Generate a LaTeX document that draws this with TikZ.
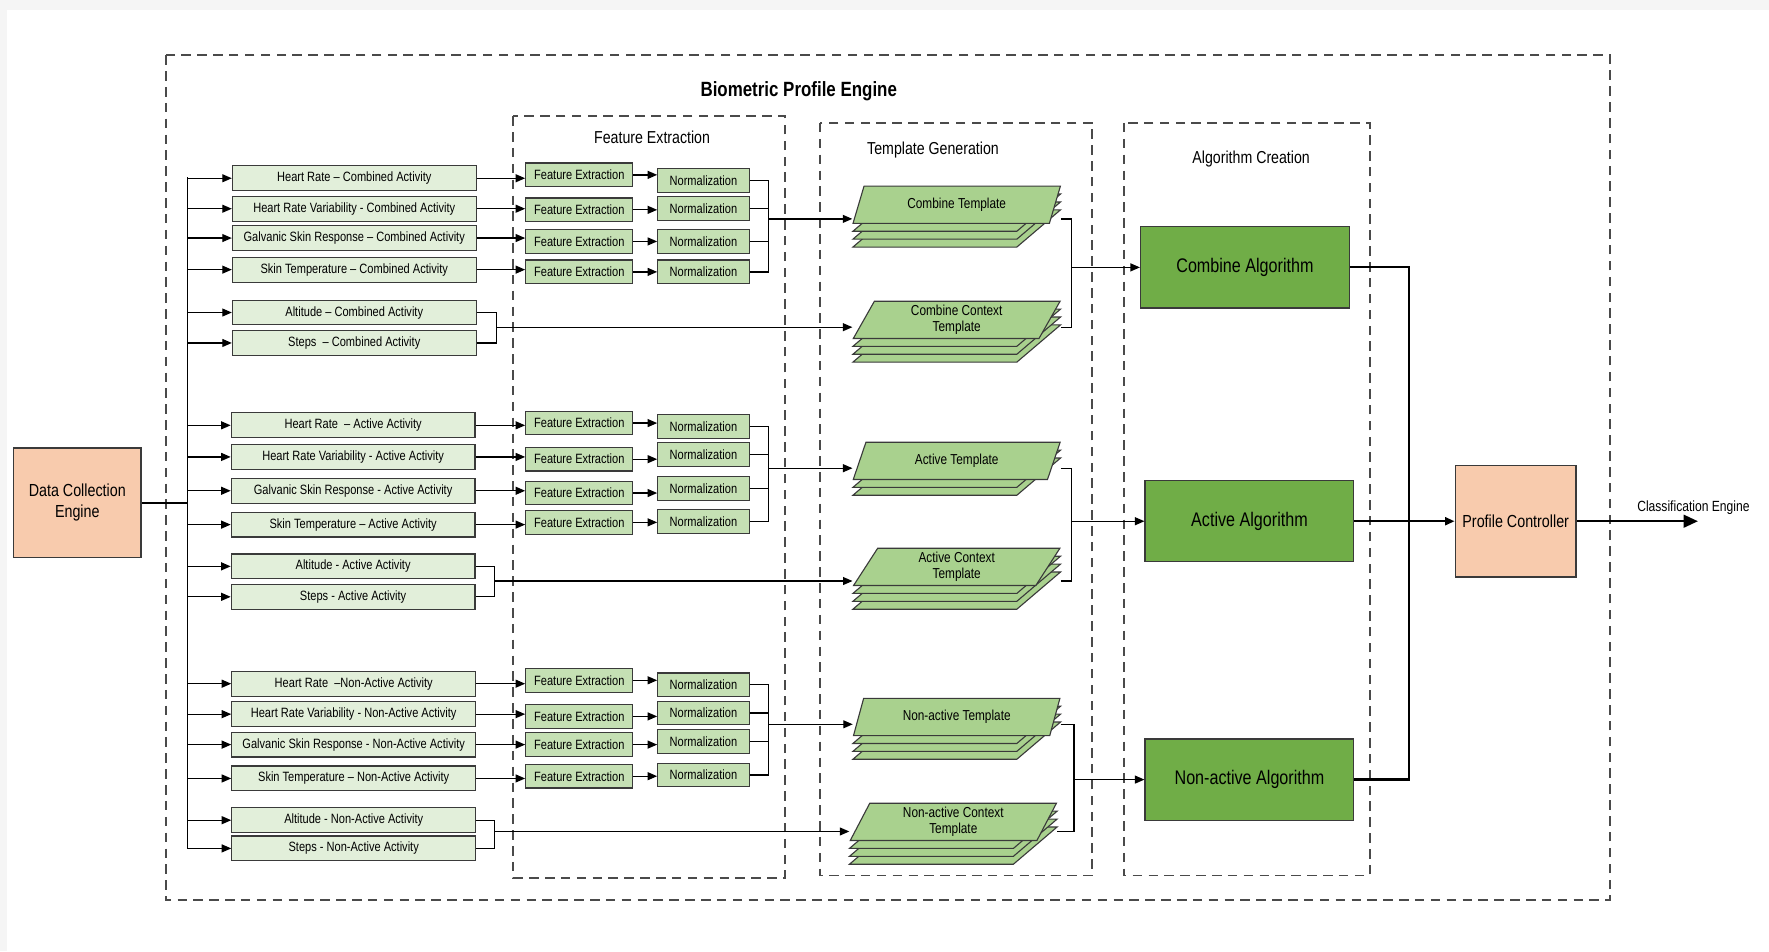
\documentclass[tikz,border=0pt]{standalone}
\usepackage{fontspec}
\setmainfont{Liberation Sans}[FakeStretch=0.82]
\usepackage{xcolor}
\usetikzlibrary{arrows.meta,shapes.geometric}
\definecolor{paleGreen}{HTML}{E2EFDA}
\definecolor{softGreen}{HTML}{C5E0B4}
\definecolor{midGreen}{HTML}{A9D18E}
\definecolor{deepGreen}{HTML}{70AD47}
\definecolor{softPeach}{HTML}{F8CBAD}
\definecolor{edgeGrey}{HTML}{3A3A3A}
\definecolor{dashGrey}{HTML}{4A4A4A}

\tikzset{
  inbox/.style={draw=edgeGrey,fill=paleGreen,line width=0.7pt,minimum width=5.4cm,minimum height=0.55cm,inner sep=1pt,font=\fontsize{8.5}{10}\selectfont},
  febox/.style={draw=edgeGrey,fill=softGreen,line width=0.7pt,minimum width=2.375cm,minimum height=0.525cm,inner sep=1pt,font=\fontsize{8.5}{10}\selectfont},
  nmbox/.style={febox,minimum width=2.025cm},
  tlayer/.style={trapezium,trapezium left angle=70,trapezium right angle=110,trapezium stretches=true,draw=edgeGrey,fill=midGreen,line width=0.7pt,minimum width=4.6cm,minimum height=0.825cm,inner sep=1pt,align=center,font=\fontsize{9.1}{10.5}\selectfont},
  algbox/.style={draw=edgeGrey,fill=deepGreen,line width=0.8pt,minimum width=4.625cm,minimum height=1.8cm,font=\fontsize{12.4}{14}\selectfont},
  ctlbox/.style={draw=edgeGrey,fill=softPeach,line width=1pt,align=center,font=\fontsize{11}{13}\selectfont},
  grpbox/.style={draw=dashGrey,line width=1.1pt,dash pattern=on 6pt off 4pt},
  grptitle/.style={font=\fontsize{10.9}{12}\selectfont},
  wire/.style={line width=0.8pt},
  bus/.style={line width=1.4pt},
}

% stacked template: name, x, y (top layer centre), text, layers behind
\newcommand{\tmplstack}[5]{%
  \foreach \k in {#5,...,1}
    \node[tlayer] at (#2,#3+7*\k) {};
  \node[tlayer] (#1) at (#2,#3) {#4};
}

\begin{document}
\begin{tikzpicture}[x=0.025cm,y=-0.025cm,>={Triangle[length=6pt,width=5pt]}]
  \useasboundingbox (0,0) rectangle (1568,843);
  \fill[gray!8] (0,0) rectangle (1568,843);
  \fill[white] (6,9) rectangle (1568,843);

  % group frames
  \draw[grpbox] (147,49) rectangle (1427,798);
  \draw[grpbox] (455,103) rectangle (696,778);
  \draw[grpbox] (727,109) rectangle (968,776);
  \draw[grpbox] (996,109) rectangle (1214,776);
  \node[font=\bfseries\fontsize{13}{15}\selectfont] (tbpe) at (708,81) {Biometric Profile Engine};
  \node[grptitle] (tfe) at (578,122) {Feature Extraction};
  \node[grptitle] (ttg) at (827,133) {Template Generation};
  \node[grptitle] (tac) at (1109,141) {Algorithm Creation};

  % data collection
  \node[ctlbox,minimum width=2.825cm,minimum height=2.425cm] (dce) at (68.5,445.5) {Data Collection\\Engine};
  \coordinate (bt) at (166,157);
  \coordinate (bb) at (166,752);
  \draw[bus] (dce.east) -- (dce.east -| bt);
  \draw[wire] (bt) -- (bb);

  % combined activity
  \node[inbox] (hrc) at (314,158) {Heart Rate -- Combined Activity};
  \node[inbox] (hrvc) at (314,185) {Heart Rate Variability - Combined Activity};
  \node[inbox] (gsrc) at (314,211) {Galvanic Skin Response -- Combined Activity};
  \node[inbox] (stc) at (314,239) {Skin Temperature -- Combined Activity};
  \node[inbox] (altc) at (314,277) {Altitude -- Combined Activity};
  \node[inbox] (stpc) at (314,304) {Steps \ -- Combined Activity};

  \node[febox] (fec1) at (513.5,155) {Feature Extraction};
  \node[febox] (fec2) at (513.5,186) {Feature Extraction};
  \node[febox] (fec3) at (513.5,214) {Feature Extraction};
  \node[febox] (fec4) at (513.5,241) {Feature Extraction};
  \node[nmbox] (nmc1) at (623.5,160) {Normalization};
  \node[nmbox] (nmc2) at (623.5,185) {Normalization};
  \node[nmbox] (nmc3) at (623.5,214) {Normalization};
  \node[nmbox] (nmc4) at (623.5,241) {Normalization};

  % active activity
  \node[inbox] (hra) at (313,377) {Heart Rate \ -- Active Activity};
  \node[inbox] (hrva) at (313,405) {Heart Rate Variability - Active Activity};
  \node[inbox] (gsra) at (313,435) {Galvanic Skin Response - Active Activity};
  \node[inbox] (sta) at (313,465) {Skin Temperature -- Active Activity};
  \node[inbox] (alta) at (313,502) {Altitude - Active Activity};
  \node[inbox] (stpa) at (313,529) {Steps - Active Activity};

  \node[febox] (fea1) at (513.5,375) {Feature Extraction};
  \node[febox] (fea2) at (513.5,407) {Feature Extraction};
  \node[febox] (fea3) at (513.5,437) {Feature Extraction};
  \node[febox] (fea4) at (513.5,463) {Feature Extraction};
  \node[nmbox] (nma1) at (623.5,378) {Normalization};
  \node[nmbox] (nma2) at (623.5,403) {Normalization};
  \node[nmbox] (nma3) at (623.5,433) {Normalization};
  \node[nmbox] (nma4) at (623.5,462) {Normalization};

  % non-active activity
  \node[inbox] (hrn) at (313.5,606) {Heart Rate \ --Non-Active Activity};
  \node[inbox] (hrvn) at (313.5,633) {Heart Rate Variability - Non-Active Activity};
  \node[inbox] (gsrn) at (313.5,660) {Galvanic Skin Response - Non-Active Activity};
  \node[inbox] (stn) at (313.5,690) {Skin Temperature -- Non-Active Activity};
  \node[inbox] (altn) at (313.5,727) {Altitude - Non-Active Activity};
  \node[inbox] (stpn) at (313.5,752) {Steps - Non-Active Activity};

  \node[febox] (fen1) at (513.5,603) {Feature Extraction};
  \node[febox] (fen2) at (513.5,635) {Feature Extraction};
  \node[febox] (fen3) at (513.5,660) {Feature Extraction};
  \node[febox] (fen4) at (513.5,688) {Feature Extraction};
  \node[nmbox] (nmn1) at (623.5,607) {Normalization};
  \node[nmbox] (nmn2) at (623.5,632) {Normalization};
  \node[nmbox] (nmn3) at (623.5,657) {Normalization};
  \node[nmbox] (nmn4) at (623.5,687) {Normalization};

  % templates
  \tmplstack{ctp}{848}{181.5}{Combine Template}{3}
  \tmplstack{cctp}{848}{283.5}{Combine Context\\Template}{3}
  \tmplstack{atp}{848}{408.5}{Active Template}{2}
  \tmplstack{actp}{848}{502.5}{Active Context\\Template}{3}
  \tmplstack{ntp}{848}{635.5}{Non-active Template}{3}
  \tmplstack{nctp}{845}{728.5}{Non-active Context\\Template}{3}

  % algorithms and controller
  \node[algbox] (calg) at (1103.5,237) {Combine Algorithm};
  \node[algbox] (aalg) at (1107.5,462) {Active Algorithm};
  \node[algbox] (nalg) at (1107.5,691) {Non-active Algorithm};
  \node[ctlbox,minimum width=2.675cm,minimum height=2.475cm] (pc) at (1343.5,462) {Profile Controller};

  % junction points
  \coordinate (cb) at (681,194);
  \coordinate (cx) at (440,290);
  \coordinate (ab) at (681,415);
  \coordinate (ax) at (438,515);
  \coordinate (nb) at (681,642);
  \coordinate (nx) at (438,737);
  \coordinate (ca) at (950,237);
  \coordinate (aa) at (950,462);
  \coordinate (na) at (952,691);
  \coordinate (rb) at (1249,462);
  \coordinate (ce) at (1505,462);

  % bus to sensors
  \draw[wire,->] (hrc.west -| bt) -- (hrc.west);
  \draw[wire,->] (hrvc.west -| bt) -- (hrvc.west);
  \draw[wire,->] (gsrc.west -| bt) -- (gsrc.west);
  \draw[wire,->] (stc.west -| bt) -- (stc.west);
  \draw[wire,->] (altc.west -| bt) -- (altc.west);
  \draw[wire,->] (stpc.west -| bt) -- (stpc.west);
  \draw[wire,->] (hra.west -| bt) -- (hra.west);
  \draw[wire,->] (hrva.west -| bt) -- (hrva.west);
  \draw[wire,->] (gsra.west -| bt) -- (gsra.west);
  \draw[wire,->] (sta.west -| bt) -- (sta.west);
  \draw[wire,->] (alta.west -| bt) -- (alta.west);
  \draw[wire,->] (stpa.west -| bt) -- (stpa.west);
  \draw[wire,->] (hrn.west -| bt) -- (hrn.west);
  \draw[wire,->] (hrvn.west -| bt) -- (hrvn.west);
  \draw[wire,->] (gsrn.west -| bt) -- (gsrn.west);
  \draw[wire,->] (stn.west -| bt) -- (stn.west);
  \draw[wire,->] (altn.west -| bt) -- (altn.west);
  \draw[wire,->] (stpn.west -| bt) -- (stpn.west);

  % combined chain
  \draw[wire,->] (hrc.east) -- (hrc.east -| fec1.west);
  \draw[wire,->] (hrvc.east) -- (hrvc.east -| fec2.west);
  \draw[wire,->] (gsrc.east) -- (gsrc.east -| fec3.west);
  \draw[wire,->] (stc.east) -- (stc.east -| fec4.west);
  \draw[wire,->] (fec1.east) -- (fec1.east -| nmc1.west);
  \draw[wire,->] (fec2.east) -- (fec2.east -| nmc2.west);
  \draw[wire,->] (fec3.east) -- (fec3.east -| nmc3.west);
  \draw[wire,->] (fec4.east) -- (fec4.east -| nmc4.west);
  \draw[wire] (nmc1.east) -| (cb);
  \draw[wire] (nmc2.east) -| (cb);
  \draw[wire] (nmc3.east) -| (cb);
  \draw[wire] (nmc4.east) -| (cb);
  \draw[wire,->] (cb) -- (cb -| ctp.bottom left corner);
  \draw[wire] (altc.east) -| (cx);
  \draw[wire] (stpc.east) -| (cx);
  \draw[wire,->] (cx) -- (cx -| cctp.bottom left corner);

  % active chain
  \draw[wire,->] (hra.east) -- (hra.east -| fea1.west);
  \draw[wire,->] (hrva.east) -- (hrva.east -| fea2.west);
  \draw[wire,->] (gsra.east) -- (gsra.east -| fea3.west);
  \draw[wire,->] (sta.east) -- (sta.east -| fea4.west);
  \draw[wire,->] (fea1.east) -- (fea1.east -| nma1.west);
  \draw[wire,->] (fea2.east) -- (fea2.east -| nma2.west);
  \draw[wire,->] (fea3.east) -- (fea3.east -| nma3.west);
  \draw[wire,->] (fea4.east) -- (fea4.east -| nma4.west);
  \draw[wire] (nma1.east) -| (ab);
  \draw[wire] (nma2.east) -| (ab);
  \draw[wire] (nma3.east) -| (ab);
  \draw[wire] (nma4.east) -| (ab);
  \draw[wire,->] (ab) -- (ab -| atp.bottom left corner);
  \draw[wire] (alta.east) -| (ax);
  \draw[wire] (stpa.east) -| (ax);
  \draw[wire,->] (ax) -- (ax -| actp.bottom left corner);

  % non-active chain
  \draw[wire,->] (hrn.east) -- (hrn.east -| fen1.west);
  \draw[wire,->] (hrvn.east) -- (hrvn.east -| fen2.west);
  \draw[wire,->] (gsrn.east) -- (gsrn.east -| fen3.west);
  \draw[wire,->] (stn.east) -- (stn.east -| fen4.west);
  \draw[wire,->] (fen1.east) -- (fen1.east -| nmn1.west);
  \draw[wire,->] (fen2.east) -- (fen2.east -| nmn2.west);
  \draw[wire,->] (fen3.east) -- (fen3.east -| nmn3.west);
  \draw[wire,->] (fen4.east) -- (fen4.east -| nmn4.west);
  \draw[wire] (nmn1.east) -| (nb);
  \draw[wire] (nmn2.east) -| (nb);
  \draw[wire] (nmn3.east) -| (nb);
  \draw[wire] (nmn4.east) -| (nb);
  \draw[wire,->] (nb) -- (nb -| ntp.bottom left corner);
  \draw[wire] (altn.east) -| (nx);
  \draw[wire] (stpn.east) -| (nx);
  \draw[wire,->] (nx) -- (nx -| nctp.bottom left corner);

  % templates to algorithms
  \draw[wire] (ctp.top right corner |- cb) -| (ca);
  \draw[wire] (cctp.top right corner |- cx) -| (ca);
  \draw[wire,->] (ca) -- (calg.west);
  \draw[wire] (atp.top right corner |- ab) -| (aa);
  \draw[wire] (actp.top right corner |- ax) -| (aa);
  \draw[wire,->] (aa) -- (aalg.west);
  \draw[wire] (ntp.top right corner |- nb) -| (na);
  \draw[wire] (nctp.top right corner |- nx) -| (na);
  \draw[wire,->] (na) -- (nalg.west);

  % algorithms to controller
  \draw[bus] (calg.east) -| (rb);
  \draw[bus] (nalg.east) -| (rb);
  \draw[bus,->] (aalg.east) -- (pc.west);
  \draw[bus,-{Triangle[length=9pt,width=8pt]}] (pc.east) -- (ce);
  \node[font=\fontsize{9.3}{11}\selectfont] (cel) at (1501,450) {Classification Engine};
\end{tikzpicture}
\end{document}
